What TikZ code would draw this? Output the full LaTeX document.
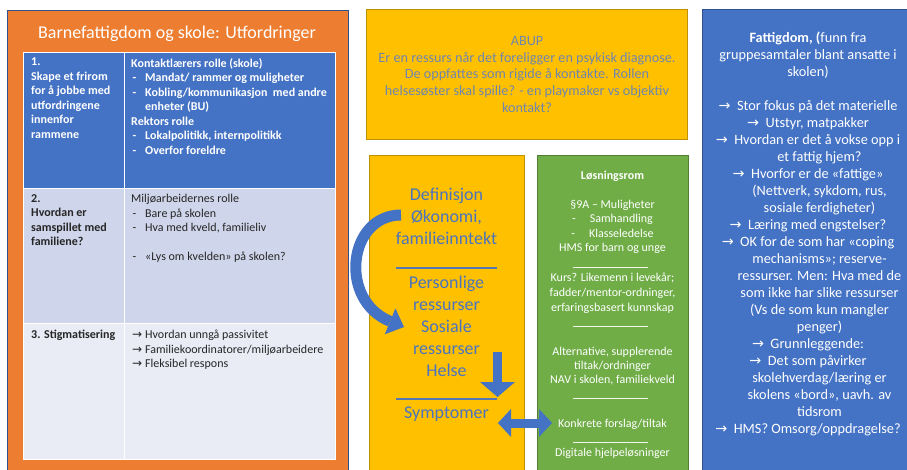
\documentclass[tikz,border=0pt]{standalone}
\usepackage{fontspec}
\setmainfont{Carlito}
\newfontfamily\symfont{DejaVu Sans}
\usetikzlibrary{positioning, arrows.meta}

\definecolor{orangebg}{HTML}{ED7D31}
\definecolor{bluebg}{HTML}{4472C4}
\definecolor{darkblue}{HTML}{2F528F}
\definecolor{yellowbg}{HTML}{FFC000}
\definecolor{yellowline}{HTML}{BF9000}
\definecolor{greenbg}{HTML}{70AD47}
\definecolor{greenline}{HTML}{507E32}
\definecolor{rowtwo}{HTML}{CFD5EA}
\definecolor{rowthree}{HTML}{E9EBF5}
\definecolor{abuptext}{HTML}{7086AD}
\definecolor{yelltext}{HTML}{4C74BE}
\definecolor{darktext}{HTML}{262626}

\newcommand{\rarr}{{\symfont\char"2192}}
\newcommand{\dashitem}[1]{\hspace*{1.5pt}\makebox[12.5pt][l]{-}#1}
\newcommand{\arritem}[1]{\hspace*{1pt}\makebox[13pt][l]{\rarr}#1}
\newcommand{\cont}{\hspace*{23pt}}

\begin{document}
\begin{tikzpicture}[
      x=1pt, y=-1pt,
      panel/.style={
        rectangle,
        anchor=north west,
        inner sep=0pt,
        line width=0.8pt
      },
      cell/.style={
        rectangle,
        draw=white,
        line width=0.8pt,
        anchor=north west,
        inner sep=0pt
      },
      celltext/.style={
        anchor=north west,
        inner sep=0pt,
        align=left,
        font=\fontsize{12}{14.5}\selectfont
      },
      midtext/.style={
        anchor=north,
        inner sep=0pt,
        align=center
      },
      fatarrow/.style={draw=bluebg, line width=#1}
    ]
    \useasboundingbox (0,0) rectangle (907,470);

    % left: challenges
    \node[panel, fill=orangebg, draw=darkblue, minimum width=341pt, minimum height=470pt] (challenges) at (7,10) {};
    \node[anchor=base, inner sep=0pt, text=white, font=\fontsize{18}{21}\selectfont] (chtitle) at (177,39) {Barnefattigdom og skole: Utfordringer};

    \node[cell, fill=bluebg, minimum width=101pt, minimum height=136pt] (r1a) at (23,52) {};
    \node[cell, fill=bluebg, minimum width=211pt, minimum height=136pt] (r1b) at (124,52) {};
    \node[cell, fill=rowtwo, minimum width=101pt, minimum height=135pt] (r2a) at (23,188) {};
    \node[cell, fill=rowtwo, minimum width=211pt, minimum height=135pt] (r2b) at (124,188) {};
    \node[cell, fill=rowthree, minimum width=101pt, minimum height=136pt] (r3a) at (23,323) {};
    \node[cell, fill=rowthree, minimum width=211pt, minimum height=136pt] (r3b) at (124,323) {};

    \node[celltext, text=white, font=\fontsize{12}{14.5}\selectfont\bfseries] (t1a) at (31,58)
      {1.\\Skape et frirom\\for å jobbe med\\utfordringene\\innenfor\\rammene};
    \node[celltext, text=white, font=\fontsize{12}{14.5}\selectfont\bfseries] (t1b) at (131,58)
      {Kontaktlærers rolle (skole)\\
       \dashitem{Mandat/ rammer og muligheter}\\
       \dashitem{Kobling/kommunikasjon\ \ med andre}\\
       \hspace*{14pt}enheter (BU)\\
       Rektors rolle\\
       \dashitem{Lokalpolitikk, internpolitikk}\\
       \dashitem{Overfor foreldre}};
    \node[celltext, text=darktext, font=\fontsize{12}{14.5}\selectfont\bfseries] (t2a) at (31,194)
      {2.\\Hvordan er\\samspillet med\\familiene?};
    \node[celltext, text=darktext] (t2b) at (131,194)
      {Miljøarbeidernes rolle\\
       \dashitem{Bare på skolen}\\
       \dashitem{Hva med kveld, familieliv}\\
       ~\\
       \dashitem{«Lys om kvelden» på skolen?}};
    \node[celltext, text=darktext, font=\fontsize{12}{14.5}\selectfont\bfseries] (t3a) at (31,330)
      {3. Stigmatisering};
    \node[celltext, text=darktext] (t3b) at (131,330)
      {\arritem{Hvordan unngå passivitet}\\
       \arritem{Familiekoordinatorer/miljøarbeidere}\\
       \arritem{Fleksibel respons}};

    % top middle: ABUP
    \node[panel, fill=yellowbg, draw=yellowline, minimum width=321pt, minimum height=130pt] (abup) at (366,9) {};
    \node[midtext, text=abuptext, font=\fontsize{14.2}{16.7}\selectfont] (abuptxt) at (527,36)
      {ABUP\\
       Er en ressurs når det foreligger en psykisk diagnose.\\
       De oppfattes som rigide å kontakte. Rollen\\
       helsesøster skal spille? - en playmaker vs objektiv\\
       kontakt?};

    % middle: definition column
    \node[panel, fill=yellowbg, draw=yellowline, minimum width=155pt, minimum height=320pt] (defcol) at (369,155) {};
    \node[midtext, text=yelltext, font=\fontsize{18}{22}\selectfont] (defin) at (446.5,187.4)
      {Definisjon\\Økonomi,\\familieinntekt};
    \node[midtext, text=yelltext, font=\fontsize{18}{22}\selectfont] (resources) at (446.5,275.4)
      {Personlige\\ressurser\\Sosiale\\ressurser\\Helse};
    \node[midtext, text=yelltext, font=\fontsize{18}{22}\selectfont] (symp) at (446.5,406.4)
      {Symptomer};
    \draw[yelltext!80!gray, line width=1.3pt] (396,268) -- (497,268);
    \draw[yelltext!80!gray, line width=1.3pt] (396,399) -- (497,399);

    % middle: solution column
    \node[panel, fill=greenbg, draw=greenline, minimum width=151pt, minimum height=320pt] (solcol) at (537,155) {};
    \node[midtext, text=white, font=\fontsize{12}{14.5}\selectfont\bfseries] (solhead) at (612.5,171)
      {Løsningsrom};
    \node[midtext, text=white, font=\fontsize{12}{14.4}\selectfont] (sol1) at (612.5,200)
      {§9A – Muligheter\\
       -\hspace{14pt}Samhandling\\
       -\hspace{14pt}Klasseledelse\\
       HMS for barn og unge};
    \node[midtext, text=white, font=\fontsize{12}{14.8}\selectfont] (sol2) at (612.5,273)
      {Kurs? Likemenn i levekår;\\
       fadder/mentor-ordninger,\\
       erfaringsbasert kunnskap};
    \node[midtext, text=white, font=\fontsize{12}{14.2}\selectfont] (sol3) at (612.5,347)
      {Alternative, supplerende\\
       tiltak/ordninger\\
       NAV i skolen, familiekveld};
    \node[midtext, text=white, font=\fontsize{12}{14.5}\selectfont] (sol4) at (612.5,419)
      {Konkrete forslag/tiltak};
    \node[midtext, text=white, font=\fontsize{12}{14.5}\selectfont] (sol5) at (612.5,448)
      {Digitale hjelpeløsninger};
    \foreach \ry in {267, 326, 398, 442}
      \draw[white!90!greenbg, line width=0.7pt] (573,\ry) -- (648,\ry);

    % right: findings
    \node[panel, fill=bluebg, draw=darkblue, minimum width=212pt, minimum height=470pt] (poverty) at (702,9) {};
    \node[midtext, text=white, font=\fontsize{14.3}{17}\selectfont] (povtxt) at (808,32)
      {\textbf{Fattigdom, (}funn fra\\
       gruppesamtaler blant ansatte i\\
       skolen)\\
       ~\\
       \rarr\ \ Stor fokus på det materielle\\
       \rarr\ \ Utstyr, matpakker\\
       \rarr\ \ Hvordan er det å vokse opp i\\
       \cont et fattig hjem?\\
       \rarr\ \ Hvorfor er de «fattige»\\
       \cont (Nettverk, sykdom, rus,\\
       \cont sosiale ferdigheter)\\
       \rarr\ \ Læring med engstelser?\\
       \rarr\ \ OK for de som har «coping\\
       \cont mechanisms»; reserve-\\
       \cont ressurser. Men: Hva med de\\
       \cont som ikke har slike ressurser\\
       \cont (Vs de som kun mangler\\
       \cont penger)\\
       \rarr\ \ Grunnleggende:\\
       \rarr\ \ Det som påvirker\\
       \cont skolehverdag/læring er\\
       \cont skolens «bord», uavh. av\\
       \cont tidsrom\\
       \rarr\ \ HMS? Omsorg/oppdragelse?};

    % arrows
    \coordinate (curvestart) at (401,215);
    \coordinate (curveend) at (404,327);
    \coordinate (downstart) at (497.5,352);
    \coordinate (downend) at (497.5,397);
    \coordinate (dblleft) at (498,423);
    \coordinate (dblright) at (552,423);

    \draw[fatarrow=11pt, -{Triangle[width=28pt, length=15pt, line width=0pt]}]
      (curvestart) .. controls (348,215) and (338,300) .. (curveend);
    \draw[fatarrow=9.5pt, -{Triangle[width=35pt, length=15pt, line width=0pt]}]
      (downstart) -- (downend);
    \draw[fatarrow=9pt, {Triangle[width=28pt, length=13pt, line width=0pt]}-{Triangle[width=28pt, length=13pt, line width=0pt]}]
      (dblleft) -- (dblright);
  \end{tikzpicture}
\end{document}
